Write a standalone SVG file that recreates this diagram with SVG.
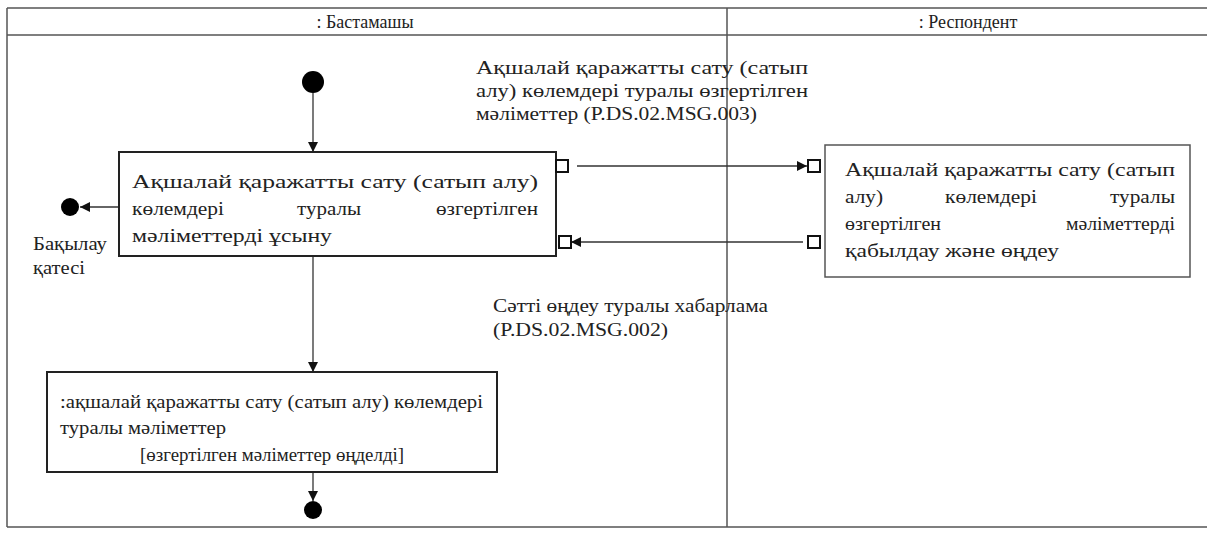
<svg xmlns="http://www.w3.org/2000/svg" width="1207" height="533" viewBox="0 0 1207 533" font-family="'Liberation Serif', 'Times New Roman', Times, serif">
<defs>
<style>
text{font-size:19px;fill:#222}
.hdr{font-size:18px}
.frame{fill:none;stroke:#555;stroke-width:1.5}
.box{fill:#fff;stroke:#222;stroke-width:2}
.rbox{fill:#fff;stroke:#555;stroke-width:1.5}
.pin{fill:#fff;stroke:#111;stroke-width:2}
.ln{fill:none;stroke:#333;stroke-width:1.3}
.dot{fill:#000}
</style>
<marker id="ah" viewBox="0 0 10 10" refX="10" refY="5" markerWidth="10" markerHeight="10" markerUnits="userSpaceOnUse" orient="auto">
<path d="M0,0 L10,5 L0,10 Z" fill="#111"/>
</marker>
</defs>
<rect width="1207" height="533" fill="#fff"/>
<g id="lanes">
<line class="frame" x1="7" y1="8" x2="1207" y2="8"/>
<line class="frame" x1="7" y1="35" x2="1207" y2="35"/>
<line class="frame" x1="7" y1="527" x2="1207" y2="527"/>
<line class="frame" x1="7" y1="8" x2="7" y2="527"/>
<line class="frame" x1="727" y1="8" x2="727" y2="527"/>
<text class="hdr" x="365" y="28" text-anchor="middle">: Бастамашы</text>
<text class="hdr" x="968" y="28" text-anchor="middle">: Респондент</text>
</g>
<g id="connectors">
<line class="ln" x1="313" y1="93" x2="313" y2="152" marker-end="url(#ah)"/>
<line class="ln" x1="119" y1="207" x2="80" y2="207" marker-end="url(#ah)"/>
<line class="ln" x1="577" y1="166" x2="807" y2="166" marker-end="url(#ah)"/>
<line class="ln" x1="803" y1="242" x2="571" y2="242" marker-end="url(#ah)"/>
<line class="ln" x1="313" y1="256" x2="313" y2="372" marker-end="url(#ah)"/>
<line class="ln" x1="313" y1="472" x2="313" y2="501" marker-end="url(#ah)"/>
</g>
<g id="start"><circle class="dot" cx="313" cy="82" r="11"/></g>
<g id="box1">
<rect class="box" x="119" y="152" width="437" height="104"/>
<text x="132" y="188" textLength="406" lengthAdjust="spacingAndGlyphs">Ақшалай қаражатты сату (сатып алу)</text>
<text x="132" y="215" textLength="92" lengthAdjust="spacingAndGlyphs">көлемдері</text>
<text x="297" y="215" textLength="64" lengthAdjust="spacingAndGlyphs">туралы</text>
<text x="436" y="215" textLength="102" lengthAdjust="spacingAndGlyphs">өзгертілген</text>
<text x="132" y="242" textLength="200" lengthAdjust="spacingAndGlyphs">мәліметтерді ұсыну</text>
</g>
<g id="pins1">
<rect class="pin" x="556" y="160" width="12" height="12"/>
<rect class="pin" x="559" y="236" width="12" height="12"/>
</g>
<g id="errorEnd">
<circle class="dot" cx="70" cy="207" r="9"/>
<text x="33" y="250" textLength="74" lengthAdjust="spacingAndGlyphs">Бақылау</text>
<text x="33" y="274" textLength="52" lengthAdjust="spacingAndGlyphs">қатесі</text>
</g>
<g id="msg1">
<text x="476" y="74" textLength="332" lengthAdjust="spacingAndGlyphs">Ақшалай қаражатты сату (сатып</text>
<text x="476" y="97" textLength="332" lengthAdjust="spacingAndGlyphs">алу) көлемдері туралы өзгертілген</text>
<text x="476" y="120" textLength="281" lengthAdjust="spacingAndGlyphs">мәліметтер (P.DS.02.MSG.003)</text>
</g>
<g id="box2">
<rect class="rbox" x="825" y="145" width="365" height="132"/>
<rect class="pin" x="808" y="160" width="12" height="12"/>
<rect class="pin" x="808" y="236" width="12" height="12"/>
<text x="845" y="176" textLength="330" lengthAdjust="spacingAndGlyphs">Ақшалай қаражатты сату (сатып</text>
<text x="845" y="203" textLength="38" lengthAdjust="spacingAndGlyphs">алу)</text>
<text x="945" y="203" textLength="92" lengthAdjust="spacingAndGlyphs">көлемдері</text>
<text x="1110" y="203" textLength="65" lengthAdjust="spacingAndGlyphs">туралы</text>
<text x="845" y="230" textLength="96" lengthAdjust="spacingAndGlyphs">өзгертілген</text>
<text x="1066" y="230" textLength="109" lengthAdjust="spacingAndGlyphs">мәліметтерді</text>
<text x="845" y="257" textLength="214" lengthAdjust="spacingAndGlyphs">қабылдау және өңдеу</text>
</g>
<g id="msg2">
<text x="493" y="312" textLength="275" lengthAdjust="spacingAndGlyphs">Сәтті өңдеу туралы хабарлама</text>
<text x="493" y="336" textLength="175" lengthAdjust="spacingAndGlyphs">(P.DS.02.MSG.002)</text>
</g>
<g id="box3">
<rect class="box" x="47" y="372" width="450" height="100"/>
<text x="60" y="408" textLength="423" lengthAdjust="spacingAndGlyphs">:ақшалай қаражатты сату (сатып алу) көлемдері</text>
<text x="60" y="434" textLength="166" lengthAdjust="spacingAndGlyphs">туралы мәліметтер</text>
<text x="140" y="461" textLength="264" lengthAdjust="spacingAndGlyphs">[өзгертілген мәліметтер өңделді]</text>
</g>
<g id="end"><circle class="dot" cx="313" cy="510" r="9"/></g>
</svg>
